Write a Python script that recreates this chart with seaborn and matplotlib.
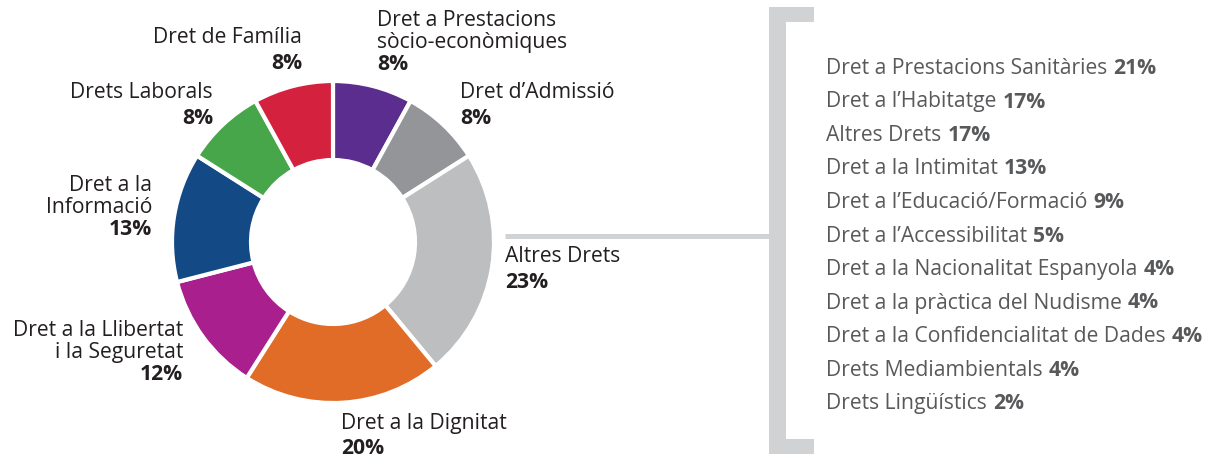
import matplotlib
matplotlib.use("Agg")
import matplotlib.pyplot as plt
import seaborn as sns
from matplotlib.patches import Rectangle

# --- DATA ---
categories = [
    ["Dret a Prestacions", "sòcio-econòmiques"],
    ["Dret d\u2019Admissió"],
    ["Altres Drets"],
    ["Dret a la Dignitat"],
    ["Dret a la Llibertat", "i la Seguretat"],
    ["Dret a la", "Informació"],
    ["Drets Laborals"],
    ["Dret de Família"],
]
values = [8, 8, 23, 20, 12, 13, 8, 8]
slice_colors = ["#5b2d8e", "#939598", "#bcbec0", "#e06c27",
                "#a91f8d", "#134a86", "#47a64a", "#d4213d"]

other_names = [
    "Dret a Prestacions Sanitàries",
    "Dret a l\u2019Habitatge",
    "Altres Drets",
    "Dret a la Intimitat",
    "Dret a l\u2019Educació/Formació",
    "Dret a l\u2019Accessibilitat",
    "Dret a la Nacionalitat Espanyola",
    "Dret a la pràctica del Nudisme",
    "Dret a la Confidencialitat de Dades",
    "Drets Mediambientals",
    "Drets Lingüístics",
]
other_values = [21, 17, 17, 13, 9, 5, 4, 4, 4, 4, 2]

# --- LAYOUT (pixel coords, y from top) ---
W, H = 1215, 457
CX, CY, R, RING = 333, 242, 161, 79
# x, first baseline, align, line step
label_pos = [
    (377, 26, "left", 22),
    (460, 98, "left", 26),
    (505, 262, "left", 26),
    (341, 429, "left", 25),
    (183, 336, "right", 22),
    (152, 191, "right", 22),
    (213, 98, "right", 26),
    (302, 43, "right", 26),
]

sns.set_theme(style="white")
plt.rcParams["font.family"] = ["Open Sans", "DejaVu Sans"]

fig = plt.figure(figsize=(W / 100, H / 100), dpi=100)
ax = fig.add_axes([0, 0, 1, 1])


def fy(y):
    return H - y


# --- DONUT ---
ax.pie(values, colors=sns.color_palette(slice_colors), startangle=90,
       counterclock=False, radius=R, center=(CX, fy(CY)),
       wedgeprops=dict(width=RING, edgecolor="white", linewidth=3))

dark = "#231f20"
for lines, v, (x, y, ha, step) in zip(categories, values, label_pos):
    for i, line in enumerate(lines):
        ax.text(x, fy(y + i * step), line, ha=ha, va="baseline",
                fontsize=15.2, color=dark)
    ax.text(x, fy(y + len(lines) * step), f"{v}%", ha=ha, va="baseline",
            fontsize=15.2, color=dark, fontweight="bold")

# --- CONNECTOR + BRACKET ---
bracket = "#d1d2d4"
ax.plot([505, 770], [fy(236), fy(236)], color=bracket, lw=3.6,
        solid_capstyle="butt")
ax.add_patch(Rectangle((769, fy(454)), 17, 447, color=bracket, lw=0))
ax.add_patch(Rectangle((769, fy(22)), 45, 15, color=bracket, lw=0))
ax.add_patch(Rectangle((769, fy(454)), 45, 15, color=bracket, lw=0))

# --- BREAKDOWN LIST ---
grey = "#58595b"
for i, (name, v) in enumerate(zip(other_names, other_values)):
    t = ax.text(826, fy(74 + i * 33.5), name, ha="left", va="baseline",
                fontsize=15.2, color=grey)
    ax.annotate(f"{v}%", xy=(1, 0), xycoords=t, xytext=(4.5, 0),
                textcoords="offset points", ha="left", va="bottom",
                fontsize=15.2, color=grey, fontweight="bold")

ax.set_xlim(0, W)
ax.set_ylim(0, H)
ax.set_aspect("equal")
ax.axis("off")

fig.savefig("out.png", dpi=100, facecolor="white")
